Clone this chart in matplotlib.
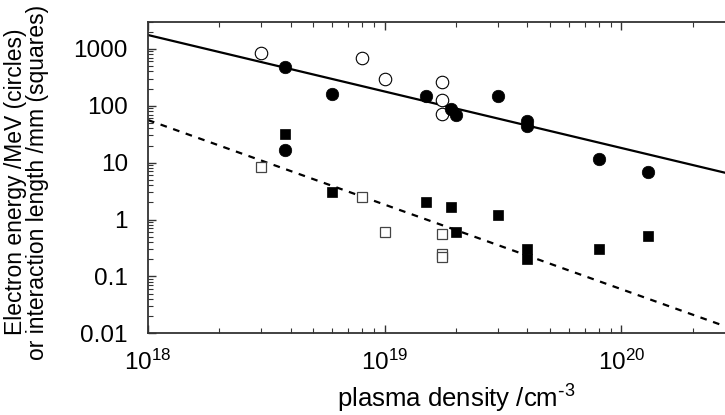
import matplotlib
matplotlib.use("Agg")
import matplotlib.pyplot as plt
from matplotlib.ticker import FixedLocator, FixedFormatter, LogLocator, NullFormatter

# ---- data ----
open_circle_n = [3.0e18, 8.0e18, 1.0e19, 1.75e19, 1.75e19, 1.75e19]
open_circle_E = [830, 680, 295, 264, 126, 71]

filled_circle_n = [3.8e18, 3.8e18, 6.0e18, 1.5e19, 1.9e19, 2.0e19, 3.0e19, 4.0e19, 4.0e19, 8.0e19, 1.3e20]
filled_circle_E = [484, 16.9, 158, 150, 86, 70, 150, 54, 44.5, 11.4, 6.9]

filled_square_n = [3.8e18, 6.0e18, 1.5e19, 1.9e19, 2.0e19, 3.0e19, 4.0e19, 4.0e19, 8.0e19, 1.3e20]
filled_square_L = [32, 3.0, 2.0, 1.68, 0.60, 1.2, 0.30, 0.20, 0.30, 0.51]

open_square_n = [3.0e18, 8.0e18, 1.0e19, 1.75e19, 1.75e19, 1.75e19]
open_square_L = [8.5, 2.48, 0.61, 0.556, 0.245, 0.22]

# fit lines (endpoints)
energy_fit_n = [1.0e18, 2.74e20]
energy_fit_E = [1750, 6.64]
length_fit_n = [1.0e18, 2.74e20]
length_fit_L = [56, 0.0133]

ytick_vals = [0.01, 0.1, 1, 10, 100, 1000]
ytick_labels = ["0.01", "0.1", "1", "10", "100", "1000"]
xtick_vals = [1e18, 1e19, 1e20]
xtick_labels = [r"$\mathregular{10^{18}}$", r"$\mathregular{10^{19}}$", r"$\mathregular{10^{20}}$"]

plt.rcParams['font.family'] = ['Liberation Sans', 'DejaVu Sans']
plt.rcParams['mathtext.default'] = 'regular'
TICK_FS = 17.5

fig = plt.figure(figsize=(7.25, 4.15), dpi=100)
ax = fig.add_axes([148/725, 1 - 333.3/415, 616/725, 311.6/415])

ax.plot(energy_fit_n, energy_fit_E, color='black', lw=1.6, zorder=2)
ax.plot(length_fit_n, length_fit_L, color='black', lw=1.6, dashes=(3, 3), zorder=2)

ax.plot(open_circle_n, open_circle_E, 'o', ms=9.0, mfc='white', mec='black', mew=0.8, ls='none', zorder=3)
ax.plot(filled_circle_n, filled_circle_E, 'o', ms=9.0, mfc='black', mec='black', mew=0.5, ls='none', zorder=4)
ax.plot(open_square_n, open_square_L, 's', ms=6.6, mfc='white', mec='#444444', mew=0.9, ls='none', zorder=3)
ax.plot(filled_square_n, filled_square_L, 's', ms=6.8, mfc='black', mec='black', mew=0.5, ls='none', zorder=4)

ax.set_xscale('log')
ax.set_yscale('log')
ax.set_xlim(1e18, 4.0e20)
ax.set_ylim(0.01, 3000)

ax.xaxis.set_major_locator(FixedLocator(xtick_vals))
ax.xaxis.set_major_formatter(FixedFormatter(xtick_labels))
ax.yaxis.set_major_locator(FixedLocator(ytick_vals))
ax.yaxis.set_major_formatter(FixedFormatter(ytick_labels))
ax.xaxis.set_minor_locator(LogLocator(base=10, subs=range(2, 10)))
ax.yaxis.set_minor_locator(LogLocator(base=10, subs=range(2, 10)))
ax.xaxis.set_minor_formatter(NullFormatter())
ax.yaxis.set_minor_formatter(NullFormatter())

spine_col = '#333333'
for s in ax.spines.values():
    s.set_color(spine_col)
    s.set_linewidth(1.3)

ax.tick_params(which='both', direction='in', top=True, right=True, colors=spine_col,
               labelcolor='black', labelsize=TICK_FS)
ax.tick_params(which='major', length=6, width=1.0)
ax.tick_params(which='minor', length=3.3, width=0.8)
ax.tick_params(axis='x', which='major', pad=12)
ax.tick_params(axis='y', which='major', pad=14.5)

ax.set_xlabel(r"plasma density /cm$^{\text{-}3}$", fontsize=18.5)
ax.set_ylabel("Electron energy /MeV (circles)\nor interaction length /mm (squares)",
              fontsize=16.5, linespacing=0.95)
ax.xaxis.set_label_coords(0.5, -0.16)
ax.yaxis.set_label_coords(-0.16, 0.485)

fig.savefig("out.png", dpi=100)
